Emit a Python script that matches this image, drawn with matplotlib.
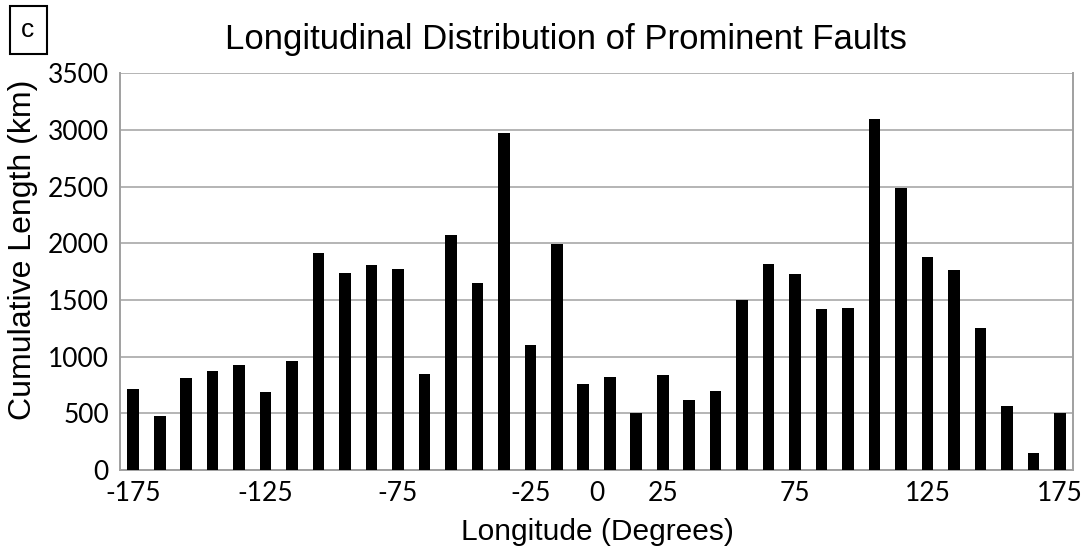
import matplotlib.pyplot as plt
from matplotlib.ticker import FixedLocator

longitude = list(range(-175, 176, 10))
cum_length = [710, 480, 810, 870, 930, 690, 960, 1910, 1740, 1810, 1770, 850,
              2070, 1650, 2970, 1100, 1990, 760, 820, 500, 840, 620, 700, 1500,
              1820, 1730, 1420, 1430, 3100, 2490, 1880, 1760, 1250, 560, 150, 500]
xtick_vals = [-175, -125, -75, -25, 0, 25, 75, 125, 175]
ytick_vals = [0, 500, 1000, 1500, 2000, 2500, 3000, 3500]

plt.rcParams['font.family'] = ['Liberation Sans', 'DejaVu Sans']

fig = plt.figure(figsize=(10.85, 5.5), dpi=100)
ax = fig.add_axes([0.1106, 0.1455, 0.8784, 0.7215])

ax.bar(longitude, cum_length, width=4.4, color="black", zorder=3)
ax.set_xlim(-180, 180)
ax.set_ylim(0, 3500)
ax.xaxis.set_major_locator(FixedLocator(xtick_vals))
ax.yaxis.set_major_locator(FixedLocator(ytick_vals))
ax.set_xticklabels([str(v) for v in xtick_vals], fontsize=19, family=['Lato', 'DejaVu Sans'])
ax.set_yticklabels([str(v) for v in ytick_vals], fontsize=19, family=['Lato', 'DejaVu Sans'])
ax.tick_params(length=0, pad=8)
ax.grid(axis="y", color="#b4b4b4", linewidth=1.4, zorder=0)
for s in ax.spines.values():
    s.set_color("#a0a0a0")
    s.set_linewidth(1.4)
ax.spines["top"].set_visible(False)

fig.text(597 / 1085, 1 - 532 / 550, "Longitude (Degrees)", fontsize=21.5,
         ha="center", va="center")
fig.text(23 / 1085, 1 - 250 / 550, "Cumulative Length (km)", fontsize=23,
         rotation=90, ha="center", va="center")
fig.text(566 / 1085, 1 - 40 / 550, "Longitudinal Distribution of Prominent Faults",
         fontsize=25, ha="center", va="center")
fig.text(28 / 1085, 1 - 30 / 550, "c", fontsize=19, ha="center", va="center",
         bbox=dict(boxstyle="square,pad=0.45", facecolor="white", edgecolor="black", linewidth=1.5))

fig.savefig("out.png", dpi=100)
